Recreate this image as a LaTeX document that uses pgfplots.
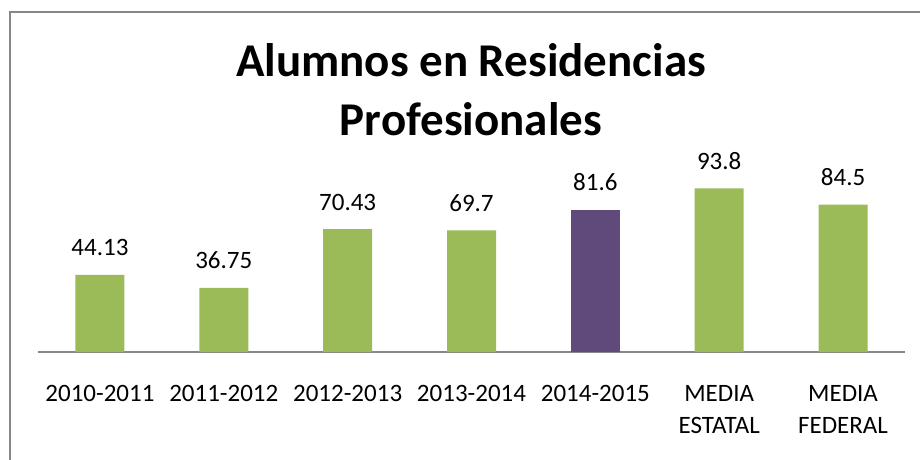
\documentclass[border=0pt]{standalone}
\usepackage{pgfplots}
\pgfplotsset{compat=1.18}
\usepackage{fontspec}
\setmainfont{Carlito}
\definecolor{bargreen}{HTML}{9BBB59}
\definecolor{barpurple}{HTML}{604A7B}
\definecolor{axgray}{HTML}{878787}
\begin{document}
\begin{tikzpicture}[x=1pt,y=1pt]
\useasboundingbox (0,0) rectangle (920,459);
\draw[axgray, line width=2pt] (10,-5) -- (10,446.5) -- (925,446.5);
\node[anchor=base, font=\fontsize{47}{56}\selectfont\bfseries] at (471,383) {Alumnos en Residencias};
\node[anchor=base, font=\fontsize{47}{56}\selectfont\bfseries] at (471,324) {Profesionales};
\begin{axis}[
  at={(38pt,107pt)}, anchor=south west,
  width=867pt, height=174.5pt, scale only axis,
  xmin=-0.5, xmax=6.5, ymin=0, ymax=100,
  axis x line*=bottom, axis y line=none,
  x axis line style={-, axgray, line width=1.5pt},
  xtick={0,1,2,3,4,5,6},
  xticklabels={2010-2011,2011-2012,2012-2013,2013-2014,2014-2015,{\begin{tabular}[t]{@{}c@{}}MEDIA\\ESTATAL\end{tabular}},{\begin{tabular}[t]{@{}c@{}}MEDIA\\FEDERAL\end{tabular}}},
  major tick length=0pt,
  xticklabel style={font=\fontsize{25}{32}\selectfont, anchor=base, yshift=-49pt},
  ybar, bar width=49pt, bar shift=0pt,
  clip=false,
  nodes near coords,
  /pgf/number format/assume math mode=true,
  every node near coord/.append style={font=\fontsize{25}{30}\selectfont, anchor=base, yshift=19pt, text=black},
]
\addplot[fill=bargreen, draw=none] coordinates {(0,44.13) (1,36.75) (2,70.43) (3,69.7) (5,93.8) (6,84.5)};
\addplot[fill=barpurple, draw=none] coordinates {(4,81.6)};
\end{axis}
\end{tikzpicture}
\end{document}
